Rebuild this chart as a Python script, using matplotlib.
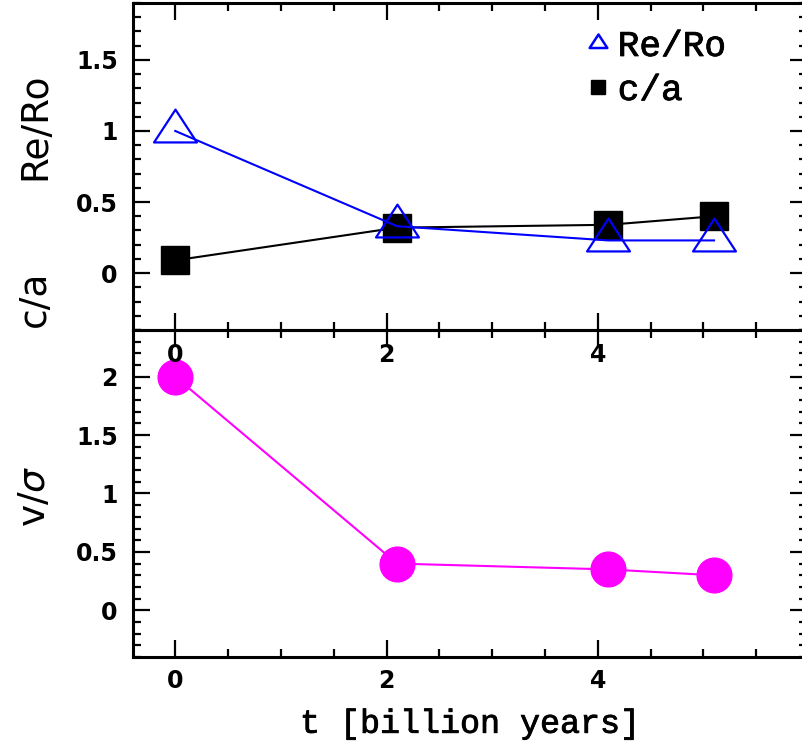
import matplotlib
matplotlib.use('Agg')
import matplotlib.pyplot as plt
import matplotlib.patheffects as pe
from matplotlib.lines import Line2D
from matplotlib.path import Path
from matplotlib.ticker import MultipleLocator, FuncFormatter

# data
t       = [0.0, 2.1, 4.1, 5.1]
re_ro   = [1.0, 0.33, 0.23, 0.23]
c_a     = [0.09, 0.32, 0.34, 0.40]
v_sigma = [2.0, 0.40, 0.35, 0.30]

plt.rcParams['font.family'] = 'DejaVu Sans'
plt.rcParams['mathtext.fontset'] = 'dejavusans'

W, H = 803, 745
fig = plt.figure(figsize=(W/100, H/100), dpi=100)

left, right = 133/W, 807/W
ax1 = fig.add_axes([left, 1-330/H, right-left, 327/H])
ax2 = fig.add_axes([left, 1-657/H, right-left, 327/H])

# triangle with its centroid on the data point
tri = Path([(0, 1), (-0.98, -0.5), (0.98, -0.5), (0, 1)],
           [Path.MOVETO, Path.LINETO, Path.LINETO, Path.CLOSEPOLY])

fmt = FuncFormatter(lambda v, p: '%g' % v)

for ax, ylo, yhi in [(ax1, -0.4, 1.9), (ax2, -0.4, 2.4)]:
    ax.set_facecolor('none')
    ax.set_xlim(-0.4, 5.98)
    ax.set_ylim(ylo, yhi)
    ax.xaxis.set_major_locator(MultipleLocator(2))
    ax.xaxis.set_minor_locator(MultipleLocator(0.5))
    ax.yaxis.set_major_locator(MultipleLocator(0.5))
    ax.yaxis.set_minor_locator(MultipleLocator(0.1))
    ax.xaxis.set_major_formatter(fmt)
    ax.yaxis.set_major_formatter(fmt)
    ax.tick_params(which='both', direction='in', top=True, right=True, width=1.6,
                   labelsize=17)
    ax.tick_params(which='major', length=12.5)
    ax.tick_params(which='minor', length=6)
    ax.tick_params(axis='x', pad=9)
    ax.tick_params(axis='y', pad=11)
    for lab in ax.get_xticklabels() + ax.get_yticklabels():
        lab.set_fontweight('bold')
    for sp in ax.spines.values():
        sp.set_linewidth(2.2)

ax1.set_zorder(3)

# top panel
ax1.plot(t, c_a, color='black', lw=1.5, marker='s', ms=19.5, mfc='black', mec='black')
ax1.plot(t, re_ro, color='blue', lw=1.5, marker=tri, ms=31.5, mfc='none', mec='blue', mew=1.6)

thick = [pe.withStroke(linewidth=0.6, foreground='black')]
handles = [Line2D([], [], ls='none', marker=tri, ms=13, mfc='none', mec='blue', mew=1.8),
           Line2D([], [], ls='none', marker='s', ms=10, mfc='black', mec='black')]
leg = ax1.legend(handles, ['Re/Ro', 'c/a'], loc='upper left', bbox_to_anchor=(0.62, 1.02),
                 frameon=False, handlelength=0.8, handletextpad=0.15, labelspacing=0.25,
                 prop=dict(family='Liberation Mono', size=26))
for txt in leg.get_texts():
    txt.set_path_effects(thick)

# bottom panel
ax2.plot(t, v_sigma, color='magenta', lw=1.5, marker='o', ms=25, mfc='magenta', mec='magenta')

labfont = dict(family='DejaVu Sans', size=27, rotation=90, ha='center', va='center')
fig.text(35/W, 1-126/H, 'Re/Ro', **labfont)
fig.text(35/W, 1-299/H, 'c/a', **labfont)
fig.text(35/W, 1-496/H, r'v/$\sigma$', **labfont)

xl = ax2.set_xlabel('t [billion years]', family='Liberation Mono', size=24, labelpad=11)
xl.set_path_effects(thick)

fig.savefig('out.png', dpi=100)
